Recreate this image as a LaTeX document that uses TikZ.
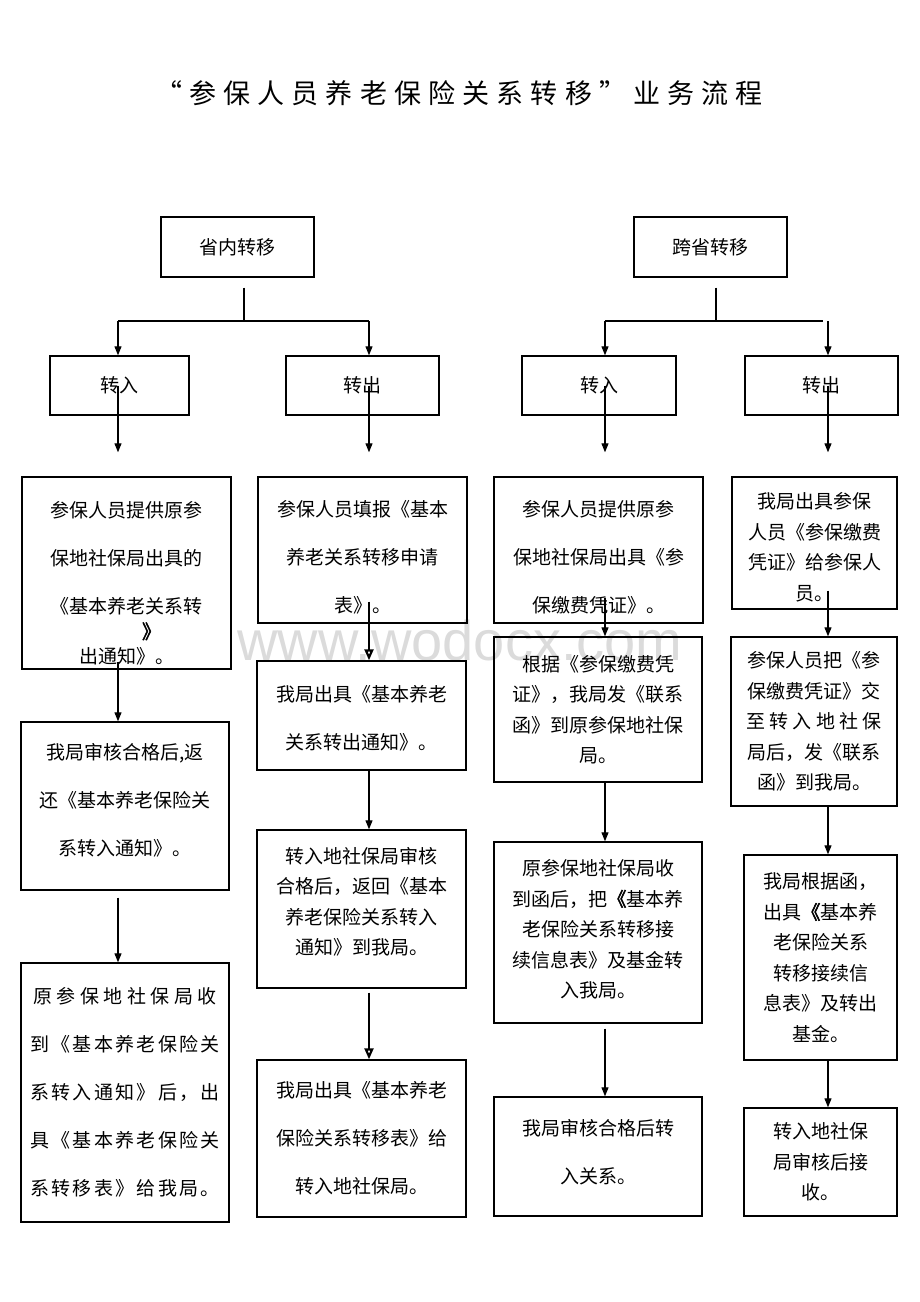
\documentclass[tikz,border=0pt]{standalone}
\usepackage{fontspec}
\usepackage{tikz}
\usetikzlibrary{arrows.meta}
\newfontfamily\cjk{Noto Sans CJK SC}
\newfontfamily\cjkbold[FakeBold=2.5]{Noto Sans CJK SC}
\newfontfamily\titlefont[LetterSpace=26.5]{Noto Sans CJK SC}
\setsansfont{Liberation Sans}
% struts to move a box text down (first line) or up (last line)
\newcommand\dnby[1]{\rule{0pt}{#1pt}}
\newcommand\upby[1]{\rule[-#1pt]{0pt}{0pt}}

\tikzset{
  box/.style={draw, line width=1.4pt, inner sep=0pt, align=center},
  loose/.style={font=\cjk\fontsize{19}{48}\selectfont},
  tight/.style={font=\cjk\fontsize{19}{30.5}\selectfont},
  arr/.style={-{Triangle[length=9pt,width=7pt]}, line width=1.1pt},
  bigarr/.style={-{Triangle[open,length=11pt,width=9pt]}, line width=2.2pt},
}

\begin{document}
\begin{tikzpicture}[x=1pt, y=-1pt]
  \useasboundingbox (0,0) rectangle (920,1302);

  % Watermark and title
  \node[text=black!14, font=\sffamily\fontsize{56}{56}\selectfont] (wm) at (460,640) {www.wodocx.com};
  \node[font=\titlefont\fontsize{27}{27}\selectfont] (title) at (459,93) {“参保人员养老保险关系转移”业务流程};

  % Define nodes
  \node[box, loose, minimum width=153, minimum height=60] (top1) at (237.5,247) {省内转移};
  \node[box, loose, minimum width=153, minimum height=60] (top2) at (710.5,247) {跨省转移};

  \node[box, loose, minimum width=139, minimum height=59] (in1) at (119.5,385.5) {转入};
  \node[box, loose, minimum width=153, minimum height=59] (out1) at (362.5,385.5) {转出};
  \node[box, loose, minimum width=154, minimum height=59] (in2) at (599,385.5) {转入};
  \node[box, loose, minimum width=153, minimum height=59] (out2) at (821.5,385.5) {转出};

  \coordinate (j1) at (244,321);
  \coordinate (j1l) at (118,321);
  \coordinate (j1r) at (369,321);
  \coordinate (j2) at (716,321);
  \coordinate (j2l) at (605,321);
  \coordinate (j2r) at (828,321);

  % column: in-province, in
  \node[box, loose, minimum width=209, minimum height=192] (a1) at (126.5,573)
    {\dnby{36.7}参保人员提供原参\\保地社保局出具的\\《基本养老关系转\\[-23pt]\hspace*{50pt}{\cjkbold 》}\\[-23pt]出通知》。};
  \node[box, loose, minimum width=208, minimum height=168] (a2) at (125,806)
    {我局审核合格后,返\\还《基本养老保险关\\系转入通知》。\upby{12.3}};
  \node[box, loose, minimum width=208, minimum height=259] (a3) at (125,1092.5)
    {{\addfontfeature{LetterSpace=24}原参保地社保局收}\\{\addfontfeature{LetterSpace=12}到《基本养老保险关}\\{\addfontfeature{LetterSpace=12}系转入通知》后，出}\\{\addfontfeature{LetterSpace=12}具《基本养老保险关}\\{\addfontfeature{LetterSpace=12}系转移表》给我局。}};

  % column: in-province, out
  \node[box, loose, minimum width=209, minimum height=146] (b1) at (362.5,550)
    {\dnby{30.7}参保人员填报《基本\\养老关系转移申请\\表》。};
  \node[box, loose, minimum width=209, minimum height=109] (b2) at (361.5,715.5)
    {\dnby{22}我局出具《基本养老\\关系转出通知》。};
  \node[box, tight, minimum width=209, minimum height=158] (b3) at (361.5,909)
    {转入地社保局审核\\合格后，返回《基本\\养老保险关系转入\\通知》到我局。\upby{16}};
  \node[box, loose, minimum width=209, minimum height=157] (b4) at (361.5,1138.5)
    {我局出具《基本养老\\保险关系转移表》给\\转入地社保局。};

  % column: cross-province, in
  \node[box, loose, minimum width=209, minimum height=146] (c1) at (598.5,550)
    {\dnby{30.7}参保人员提供原参\\保地社保局出具《参\\保缴费凭证》。};
  \node[box, tight, minimum width=208, minimum height=145] (c2) at (598,709.5)
    {根据《参保缴费凭\\证》，我局发《联系\\函》到原参保地社保\\局。};
  \node[box, tight, minimum width=208, minimum height=181] (c3) at (598,932.5)
    {原参保地社保局收\\到函后，把{\cjkbold 《}基本养\\老保险关系转移接\\续信息表》及基金转\\入我局。\upby{8}};
  \node[box, loose, minimum width=208, minimum height=119] (c4) at (598,1156.5)
    {我局审核合格后转\\入关系。\upby{10}};

  % column: cross-province, out
  \node[box, tight, minimum width=165, minimum height=132] (d1) at (814.5,543)
    {\dnby{24.7}我局出具参保\\人员《参保缴费\\凭证》给参保人\\员。};
  \node[box, tight, minimum width=166, minimum height=169] (d2) at (814,721.5)
    {参保人员把《参\\保缴费凭证》交\\{\addfontfeature{LetterSpace=22}至转入地社保}\\局后，发《联系\\函》到我局。};
  \node[box, tight, minimum width=153, minimum height=205] (d3) at (820.5,957.5)
    {我局根据函，\\出具{\cjkbold 《}基本养\\老保险关系\\转移接续信\\息表》及转出\\基金。};
  \node[box, tight, minimum width=153, minimum height=108] (d4) at (820.5,1162)
    {转入地社保\\局审核后接\\收。};

  % Connect the nodes
  \draw[line width=1.1pt, shorten <=10pt] ([xshift=6.5pt]top1.south) -- (j1);
  \draw[line width=1.4pt] (j1l) -- (j1r);
  \draw[arr] (j1l) -- (j1l |- in1.north);
  \draw[arr] (j1r) -- (j1r |- out1.north);
  \draw[line width=1.1pt, shorten <=10pt] ([xshift=5.5pt]top2.south) -- (j2);
  \draw[line width=1.4pt] (j2l) -- (823,321);
  \draw[arr] (j2l) -- (j2l |- in2.north);
  \draw[arr] (j2r) -- (j2r |- out2.north);

  \draw[arr, shorten >=24pt] (j1l |- in1) -- (j1l |- a1.north);
  \draw[arr, shorten >=24pt] (j1r |- out1) -- (j1r |- b1.north);
  \draw[arr, shorten >=24pt] (j2l |- in2) -- (j2l |- c1.north);
  \draw[arr, shorten >=24pt] (j2r |- out2) -- (j2r |- d1.north);

  \draw[arr, shorten <=-8pt] (j1l |- a1.south) -- (j1l |- a2.north);
  \draw[arr, shorten <=7pt] (j1l |- a2.south) -- (j1l |- a3.north);

  \draw[bigarr, shorten <=-22pt] (j1r |- b1.south) -- (j1r |- b2.north);
  \draw[arr] (j1r |- b2.south) -- (j1r |- b3.north);
  \draw[bigarr, shorten <=4pt] (j1r |- b3.south) -- (j1r |- b4.north);

  \draw[arr, shorten <=-26pt] (j2l |- c1.south) -- (j2l |- c2.north);
  \draw[arr] (j2l |- c2.south) -- (j2l |- c3.north);
  \draw[arr, shorten <=5pt] (j2l |- c3.south) -- (j2l |- c4.north);

  \draw[arr, shorten <=-19pt] (j2r |- d1.south) -- (j2r |- d2.north);
  \draw[arr] (j2r |- d2.south) -- (j2r |- d3.north);
  \draw[arr] (j2r |- d3.south) -- (j2r |- d4.north);
\end{tikzpicture}
\end{document}
